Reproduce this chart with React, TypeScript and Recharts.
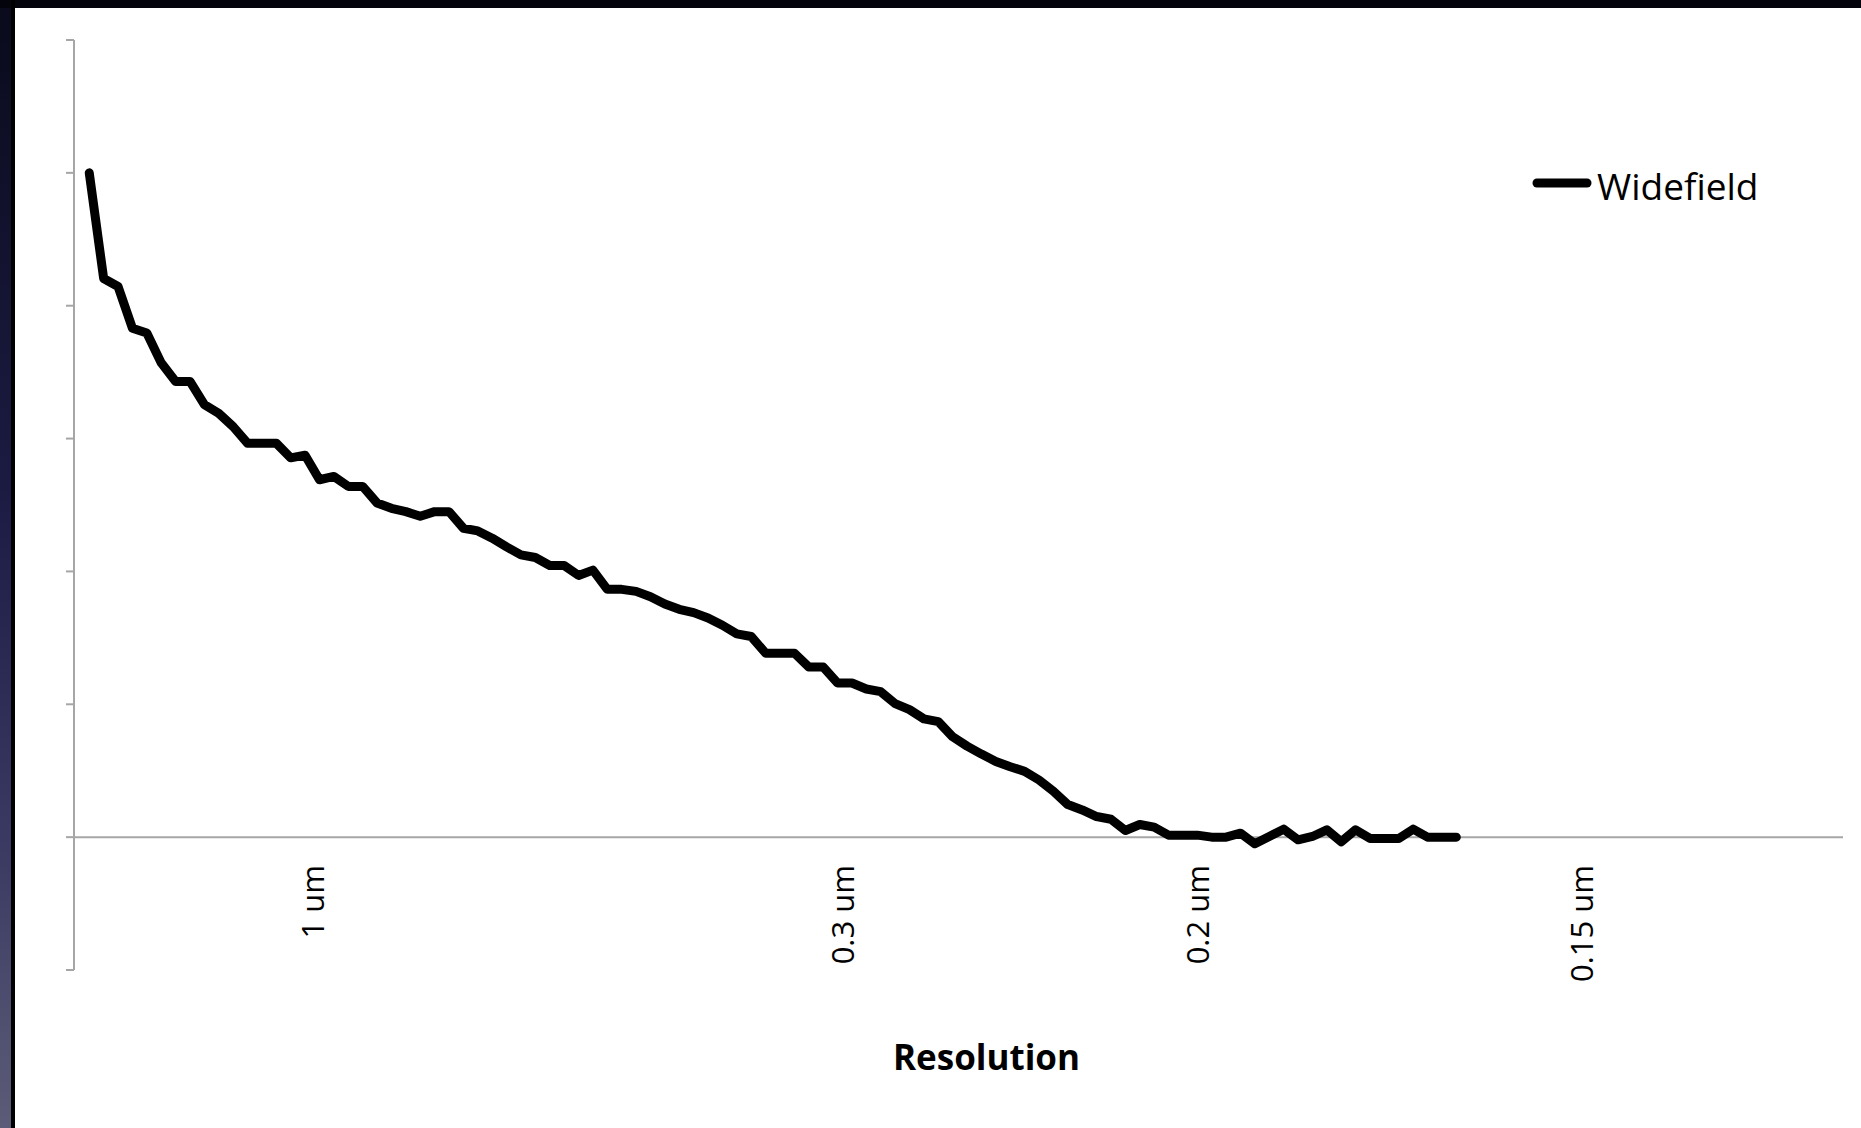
import React from 'react';
import { LineChart, Line, XAxis, YAxis, ReferenceLine, Legend, Label } from 'recharts';

const widefield: number[] = [
  1.000, 0.841, 0.829, 0.766, 0.759, 0.714, 0.686, 0.686, 0.651, 0.638,
  0.618, 0.593, 0.593, 0.593, 0.571, 0.575, 0.538, 0.543, 0.528, 0.528,
  0.503, 0.495, 0.490, 0.483, 0.490, 0.490, 0.465, 0.461, 0.450, 0.437,
  0.425, 0.421, 0.409, 0.409, 0.394, 0.402, 0.373, 0.373, 0.370, 0.362,
  0.351, 0.343, 0.338, 0.330, 0.319, 0.306, 0.302, 0.277, 0.277, 0.277,
  0.256, 0.256, 0.232, 0.232, 0.223, 0.219, 0.201, 0.192, 0.178, 0.174,
  0.151, 0.137, 0.125, 0.114, 0.106, 0.099, 0.086, 0.069, 0.049, 0.041,
  0.031, 0.027, 0.010, 0.019, 0.015, 0.003, 0.003, 0.003, 0.000, 0.000,
  0.006, -0.010, 0.001, 0.012, -0.004, 0.001, 0.011, -0.007, 0.011, -0.002,
  -0.002, -0.002, 0.012, 0.000, 0.000, 0.000,
];

// Resolution tick labels and the sample positions they sit at
const tickLabels: string[] = ['1 um', '0.3 um', '0.2 um', '0.15 um'];
const tickPositions: number[] = [15.57, 52.38, 77.05, 103.72];

const yTicks: number[] = [-0.2, 0, 0.2, 0.4, 0.6, 0.8, 1.0, 1.2];
const xDomain: [number, number] = [-1.06, 121.87];
const seriesName = 'Widefield';

const data = widefield.map((v, i) => ({ i, widefield: v }));

const FONT = '"Open Sans", "DejaVu Sans", sans-serif';
const AXIS = '#a6a6a6';

const XTick = (props: any) => {
  const { x, y, payload } = props;
  const idx = tickPositions.indexOf(payload.value);
  const label = idx >= 0 ? tickLabels[idx] : '';
  return (
    <text
      transform={`translate(${x},${y}) rotate(-90)`}
      x={105}
      y={0}
      dy="0.357em"
      textAnchor="end"
      fontFamily={FONT}
      fontSize={31}
      fill="#000"
    >
      {label}
    </text>
  );
};

const EmptyTick = () => <g />;

const LegendContent = () => (
  <svg width={300} height={60} style={{ display: 'block' }}>
    <line x1={9} y1={23} x2={59} y2={23} stroke="#000" strokeWidth={9} strokeLinecap="round" />
    <text x={69} y={40} fontFamily={FONT} fontSize={37} fill="#000">
      {seriesName}
    </text>
  </svg>
);

export default function App() {
  return (
    <div
      style={{
        position: 'absolute',
        left: 0,
        top: 0,
        width: 1861,
        height: 1128,
        overflow: 'hidden',
        background: 'linear-gradient(to bottom, #0a0a1c 0%, #1c1c44 45%, #3a3a62 75%, #5c5c78 100%)',
      }}
    >
      <div style={{ position: 'absolute', left: 0, top: 0, width: 1861, height: 8, background: '#04040c' }} />
      <div style={{ position: 'absolute', left: 11, top: 0, width: 4, height: 1128, background: '#000' }} />
      <div style={{ position: 'absolute', left: 15, top: 8, width: 1846, height: 1120, background: '#fff' }} />
      <div style={{ position: 'absolute', left: 0, top: 0 }}>
        <LineChart
          width={1861}
          height={1128}
          data={data}
          margin={{ top: 40, right: 18, bottom: 58, left: 54 }}
        >
          <YAxis
            type="number"
            domain={[-0.2, 1.2]}
            ticks={yTicks}
            interval={0}
            width={20}
            tick={<EmptyTick />}
            tickSize={8}
            axisLine={{ stroke: AXIS, strokeWidth: 2 }}
            tickLine={{ stroke: AXIS, strokeWidth: 2 }}
            allowDataOverflow
          />
          <XAxis
            type="number"
            dataKey="i"
            domain={xDomain}
            ticks={tickPositions}
            interval={0}
            allowDataOverflow
            axisLine={false}
            tickLine={false}
            tickSize={0}
            tickMargin={0}
            height={100}
            tick={<XTick />}
          >
            <Label
              content={(p: any) => {
                const vb = p.viewBox || {};
                return (
                  <text
                    x={vb.x + vb.width / 2 + 28}
                    y={vb.y + 100}
                    textAnchor="middle"
                    fontFamily={FONT}
                    fontWeight="bold"
                    fontSize={35}
                    fill="#000"
                  >
                    Resolution
                  </text>
                );
              }}
            />
          </XAxis>
          <ReferenceLine y={0} stroke={AXIS} strokeWidth={2} />
          <Legend
            layout="horizontal"
            verticalAlign="middle"
            align="center"
            content={<LegendContent />}
            wrapperStyle={{ position: 'absolute', left: 1528, top: 160, width: 300, height: 60 }}
          />
          <Line
            type="linear"
            dataKey="widefield"
            name={seriesName}
            stroke="#000"
            strokeWidth={9}
            strokeLinecap="round"
            strokeLinejoin="round"
            dot={false}
            activeDot={false}
            isAnimationActive={false}
          />
        </LineChart>
      </div>
    </div>
  );
}
